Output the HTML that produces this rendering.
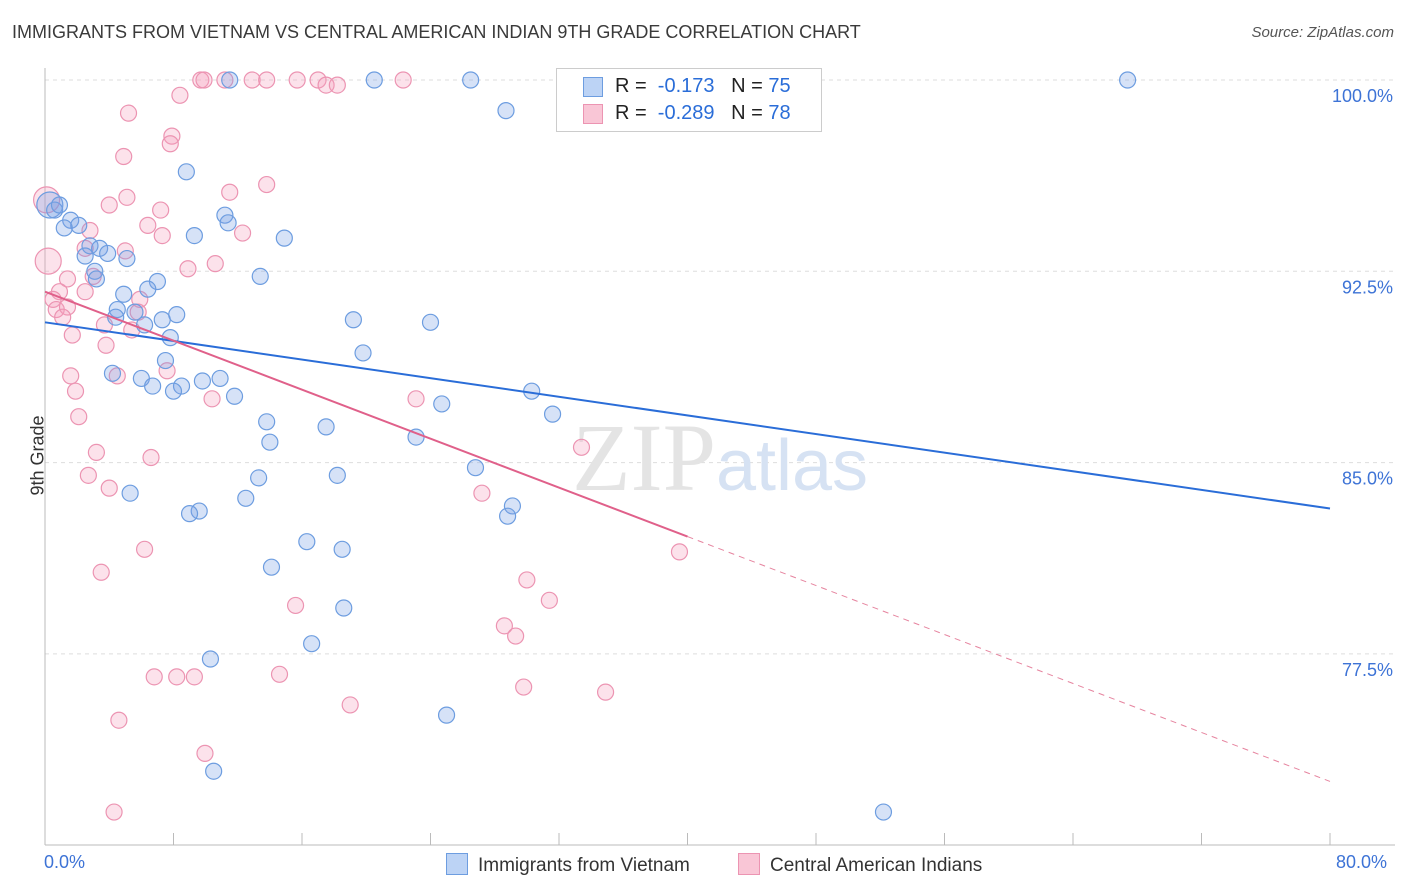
<!DOCTYPE html>
<html><head><meta charset="utf-8"><style>
body{margin:0;background:#fff;font-family:"Liberation Sans",sans-serif;}
#wrap{position:relative;width:1406px;height:892px;overflow:hidden;}
.t{position:absolute;white-space:nowrap;}
</style></head><body>
<div id="wrap">
<div class="t" style="left:12px;top:22px;font-size:18px;color:#3a3a3a;">IMMIGRANTS FROM VIETNAM VS CENTRAL AMERICAN INDIAN 9TH GRADE CORRELATION CHART</div>
<div class="t" style="right:12px;top:24px;font-size:15px;color:#555;font-style:italic;">Source: ZipAtlas.com</div>
<svg id="svg" width="1406" height="892" style="position:absolute;left:0;top:0"></svg>
</div>
<script>
const blueX=[20.5,26.5,67.4,11.5,28.7,8.8,0.3,0.6,0.9,1.6,2.1,1.2,11.2,11.4,9.3,14.9,2.8,3.4,3.9,2.5,5.1,13.4,3.1,3.2,7.0,6.4,4.9,4.5,4.4,5.6,7.3,8.2,6.2,19.2,24.0,7.8,19.8,7.5,4.2,6.0,6.7,8.5,9.8,10.9,8.0,11.8,30.3,24.7,31.6,13.8,17.5,14.0,23.1,26.8,18.2,13.3,5.3,12.5,9.6,9.0,29.1,28.8,16.3,18.5,14.1,18.6,16.6,10.3,25.0,10.5,52.2];
const blueY=[100,100,100,100,98.8,96.4,95.1,94.9,95.1,94.5,94.3,94.2,94.7,94.4,93.9,93.8,93.5,93.4,93.2,93.1,93.0,92.3,92.5,92.2,92.1,91.8,91.6,91.0,90.7,90.9,90.6,90.8,90.4,90.6,90.5,89.9,89.3,89.0,88.5,88.3,88.0,88.0,88.2,88.3,87.8,87.6,87.8,87.3,86.9,86.6,86.4,85.8,86.0,84.8,84.5,84.4,83.8,83.6,83.1,83.0,83.3,82.9,81.9,81.6,80.9,79.3,77.9,77.3,75.1,72.9,71.3];
const pinkX=[9.7,9.9,11.2,12.9,13.8,15.7,17.0,17.5,18.2,22.3,8.4,5.2,7.9,7.8,4.9,13.8,11.5,5.1,0.1,4.0,7.2,6.4,2.8,12.3,7.3,2.5,5.0,0.2,10.6,8.9,1.4,3.0,0.9,2.5,0.5,0.7,1.4,1.1,5.9,5.8,3.7,5.4,1.7,3.8,7.6,1.6,4.5,1.9,10.4,23.1,2.1,33.4,3.2,6.6,2.7,4.0,27.2,6.2,39.5,3.5,30.0,31.4,15.6,28.6,29.3,14.6,6.8,8.2,9.3,29.8,34.9,19.0,4.6,9.96,4.3];
const pinkY=[100,100,100,100,100,100,100,99.8,99.8,100,99.4,98.7,97.8,97.5,97.0,95.9,95.6,95.4,95.3,95.1,94.9,94.3,94.1,94.0,93.9,93.4,93.3,92.9,92.8,92.6,92.2,92.3,91.7,91.7,91.4,91.0,91.1,90.7,91.4,90.9,90.4,90.2,90.0,89.6,88.6,88.4,88.4,87.8,87.5,87.5,86.8,85.6,85.4,85.2,84.5,84.0,83.8,81.6,81.5,80.7,80.4,79.6,79.4,78.6,78.2,76.7,76.6,76.6,76.6,76.2,76.0,75.5,74.9,73.6,71.3];
const bigBlue=[6];const bigPink=[18,27];
const yTicks=[100,92.5,85,77.5];
const yTickLabels=["100.0%","92.5%","85.0%","77.5%"];
const blueTrend=[[0,90.5],[80,83.2]];
const pinkTrend=[[0,91.7],[40,82.1],[80,72.5]];
const X=v=>45+v/80*1285, Y=v=>80+(100-v)/7.5*191.3;
const svg=document.getElementById('svg');const NS='http://www.w3.org/2000/svg';
function mk(t,a,p){const e=document.createElementNS(NS,t);for(const k in a)e.setAttribute(k,a[k]);(p||svg).appendChild(e);return e;}
// grid
yTicks.forEach((v,i)=>{const g=mk('line',{x1:45,x2:1395,y1:Y(v),y2:Y(v),stroke:'#ddd','stroke-dasharray':'4,4'});


const t=mk('text',{x:1393,y:Y(v)+22,'text-anchor':'end','font-size':18,fill:'#3d73d6','font-family':'Liberation Sans'});t.textContent=yTickLabels[i];

});
const ax=mk('line',{x1:45,x2:45,y1:68,y2:845,stroke:'#bbb'});


const bx=mk('line',{x1:45,x2:1395,y1:845,y2:845,stroke:'#bbb'});


for(let i=0;i<=10;i++){const tk=mk('line',{x1:X(i*8),x2:X(i*8),y1:833,y2:845,stroke:'#bbb'});

}
// watermark
const wm=mk('text',{x:720,y:490,'text-anchor':'middle','font-size':96,fill:'#e4e4e4','font-family':'Liberation Serif'});


wm.innerHTML='ZIP<tspan fill="#d6e2f3" font-family="Liberation Sans" font-size="72">atlas</tspan>';
// points
function pts(xs,ys,big,fill,stroke,name){xs.forEach((x,i)=>{const r=big.includes(i)?13:8;
const c=mk('circle',{cx:X(x),cy:Y(ys[i]),r:r,fill:fill,stroke:stroke,'stroke-width':1.2});

});}
pts(pinkX,pinkY,bigPink,'rgba(244,160,188,0.3)','#ec94b2','pink-point');
pts(blueX,blueY,bigBlue,'rgba(120,160,230,0.3)','#6d9de0','blue-point');
// trends
const bl=mk('line',{x1:X(blueTrend[0][0]),y1:Y(blueTrend[0][1]),x2:X(blueTrend[1][0]),y2:Y(blueTrend[1][1]),stroke:'#2a6dd8','stroke-width':2});


const pl=mk('line',{x1:X(pinkTrend[0][0]),y1:Y(pinkTrend[0][1]),x2:X(pinkTrend[1][0]),y2:Y(pinkTrend[1][1]),stroke:'#e0608a','stroke-width':2});


const pd=mk('line',{x1:X(pinkTrend[1][0]),y1:Y(pinkTrend[1][1]),x2:X(pinkTrend[2][0]),y2:Y(pinkTrend[2][1]),stroke:'#e6849f','stroke-width':1,'stroke-dasharray':'6,5'});


</script>
<div class="t" style="left:-2px;top:445px;font-size:18px;color:#333;transform:rotate(-90deg);">9th Grade</div>
<div class="t" style="left:44px;top:852px;font-size:18px;color:#3d73d6;">0.0%</div>
<div class="t" style="left:1336px;top:852px;font-size:18px;color:#3d73d6;">80.0%</div>
<div style="position:absolute;left:556px;top:68px;width:264px;height:62px;border:1px solid #ccc;background:#fff;font-size:20px;color:#222;">
<div style="position:absolute;left:26px;top:8px;width:18px;height:18px;background:#bcd3f5;border:1px solid #6d9de0;"></div>
<div class="t" style="left:58px;top:6px;">R = &nbsp;<span style="color:#2a6dd8">-0.173</span> &nbsp;&nbsp;N = <span style="color:#2a6dd8">75</span></div>
<div style="position:absolute;left:26px;top:35px;width:18px;height:18px;background:#f9c6d6;border:1px solid #ec94b2;"></div>
<div class="t" style="left:58px;top:33px;">R = &nbsp;<span style="color:#2a6dd8">-0.289</span> &nbsp;&nbsp;N = <span style="color:#2a6dd8">78</span></div>
</div>
<div style="position:absolute;left:446px;top:853px;font-size:19px;color:#333;">
<span style="display:inline-block;width:20px;height:20px;background:#bcd3f5;border:1px solid #6d9de0;vertical-align:-4px;margin-right:10px;"></span>Immigrants from Vietnam</div>
<div style="position:absolute;left:738px;top:853px;font-size:19px;color:#333;">
<span style="display:inline-block;width:20px;height:20px;background:#f9c6d6;border:1px solid #ec94b2;vertical-align:-4px;margin-right:10px;"></span>Central American Indians</div>
</body></html>
